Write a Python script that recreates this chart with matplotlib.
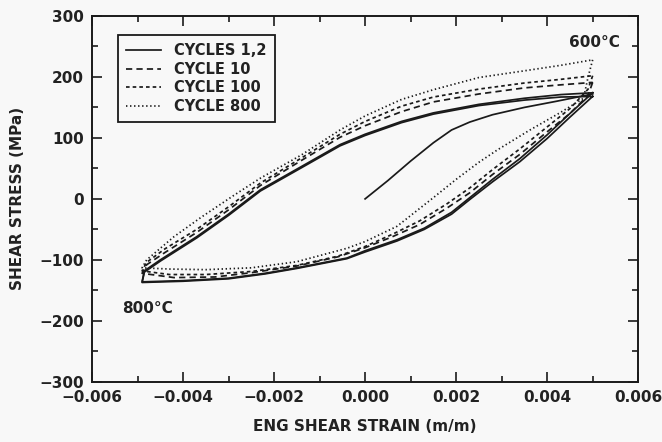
import matplotlib
matplotlib.use("Agg")
import matplotlib.pyplot as plt
from matplotlib.ticker import MultipleLocator, FuncFormatter

# ---- data (strain m/m, stress MPa) ----
# cycle 1: initial loading from the origin
c1_load_x = [0.0, 0.0005, 0.001, 0.0015, 0.0019, 0.0023, 0.0028, 0.0035, 0.0042, 0.005]
c1_load_y = [0, 30, 62, 92, 113, 126, 138, 150, 160, 172]

# loops: right tip -> lower branch -> left tip -> upper branch -> right tip
c1_x = [0.005, 0.0045, 0.004, 0.0034, 0.0028, 0.0023, 0.0019, 0.0013, 0.0007, 0.0, -0.0004,
        -0.0015, -0.0022, -0.003, -0.004, -0.0049,
        -0.00485, -0.0045, -0.0037, -0.003, -0.0023, -0.0014, -0.00055, 0.0, 0.0008, 0.0015,
        0.0025, 0.0035, 0.0043, 0.005]
c1_y = [174, 140, 105, 66, 32, 2, -22, -48, -67, -85, -97,
        -113, -122, -130, -134, -136,
        -118, -100, -62, -25, 15, 53, 89, 106, 127, 141,
        155, 165, 171, 174]

c2_x = [0.005, 0.0045, 0.004, 0.0034, 0.0028, 0.0023, 0.0019, 0.0013, 0.0007, 0.0, -0.0004,
        -0.0015, -0.0022, -0.003, -0.004, -0.0049,
        -0.00485, -0.0045, -0.0037, -0.003, -0.0023, -0.0014, -0.00055, 0.0, 0.0008, 0.0015,
        0.0025, 0.0035, 0.0043, 0.005]
c2_y = [168, 134, 99, 61, 28, -1, -25, -50, -69, -87, -98,
        -114, -123, -131, -135, -137,
        -120, -102, -64, -27, 13, 51, 87, 104, 125, 139,
        153, 162, 167, 168]

c10_x = [0.005, 0.0049, 0.0045, 0.004, 0.0034, 0.0028, 0.0023, 0.0018, 0.0012, 0.0006, 0.0,
         -0.0006, -0.0015, -0.0025, -0.0033, -0.0042, -0.0049,
         -0.0048, -0.0044, -0.0037, -0.003, -0.0023, -0.0014, -0.00055, 0.0, 0.0008, 0.0015,
         0.0025, 0.0035, 0.0043, 0.005]
c10_y = [191, 170, 140, 110, 73, 40, 10, -15, -42, -62, -80,
         -95, -110, -121, -128, -129, -122,
         -108, -88, -55, -18, 22, 63, 101, 120, 143, 159,
         172, 182, 187, 191]

c100_x = [0.005, 0.0049, 0.0045, 0.004, 0.0034, 0.0028, 0.0023, 0.0018, 0.0012, 0.0006, 0.0,
          -0.0006, -0.0015, -0.0025, -0.0035, -0.0043, -0.0049,
          -0.0048, -0.0044, -0.0037, -0.003, -0.0023, -0.0014, -0.00055, 0.0, 0.0008, 0.0015,
          0.0025, 0.0035, 0.0043, 0.005]
c100_y = [202, 180, 148, 118, 82, 48, 18, -8, -36, -58, -78,
          -94, -109, -119, -124, -124, -118,
          -104, -82, -50, -13, 26, 67, 106, 127, 152, 167,
          180, 190, 196, 202]

c800_x = [0.005, 0.0049, 0.0048, 0.0043, 0.0036, 0.0029, 0.0025, 0.002, 0.0015, 0.0007, 0.0,
          -0.0004, -0.0015, -0.0025, -0.0035, -0.0043, -0.0049,
          -0.0048, -0.0042, -0.0036, -0.0029, -0.0023, -0.0014, -0.00055, 0.0, 0.0008, 0.0015,
          0.0025, 0.0035, 0.0043, 0.005]
c800_y = [228, 200, 165, 142, 112, 80, 60, 32, 2, -45, -70,
          -81, -103, -113, -116, -115, -113,
          -100, -62, -30, 5, 34, 72, 113, 136, 163, 179,
          199, 210, 219, 228]

labels = ["CYCLES 1,2", "CYCLE 10", "CYCLE 100", "CYCLE 800"]

plt.rcParams['font.family'] = ['DejaVu Sans']
plt.rcParams['lines.scale_dashes'] = False

fig = plt.figure(figsize=(6.62, 4.42), dpi=100, facecolor='#f8f8f8')
ax = fig.add_axes([0.139, 0.136, 0.825, 0.828])
ax.set_facecolor('#f8f8f8')

ink = '#1a1a1a'
lw = 1.25
ax.plot(c1_load_x, c1_load_y, color=ink, lw=lw, ls='-')
ax.plot(c1_x, c1_y, color=ink, lw=lw, ls='-', label=labels[0])
ax.plot(c2_x, c2_y, color=ink, lw=lw, ls='-')
ax.plot(c10_x, c10_y, color=ink, lw=lw, ls=(0, (4.5, 3.0)), label=labels[1])
ax.plot(c100_x, c100_y, color=ink, lw=lw, ls=(0, (2.6, 2.2)), label=labels[2])
ax.plot(c800_x, c800_y, color=ink, lw=lw, ls=(0, (1.0, 1.9)), label=labels[3])

ax.set_xlim(-0.006, 0.006)
ax.set_ylim(-300, 300)
ax.xaxis.set_major_locator(MultipleLocator(0.002))
ax.xaxis.set_minor_locator(MultipleLocator(0.001))
ax.yaxis.set_major_locator(MultipleLocator(100))
ax.yaxis.set_minor_locator(MultipleLocator(50))
ax.xaxis.set_major_formatter(FuncFormatter(lambda v, p: f"{v:.3f}".replace('-', '\u2212')))
ax.yaxis.set_major_formatter(FuncFormatter(lambda v, p: f"{v:.0f}".replace('-', '\u2212')))
ax.tick_params(which='both', direction='in', top=True, right=True, width=1.2, color=ink)
ax.tick_params(which='major', length=7, labelsize=11, pad=6)
ax.tick_params(which='minor', length=4)
for lab in ax.get_xticklabels() + ax.get_yticklabels():
    lab.set_fontweight('bold')
    lab.set_color('#222222')
for s in ax.spines.values():
    s.set_linewidth(1.4)
    s.set_color(ink)

ax.set_xlabel("ENG SHEAR STRAIN (m/m)", fontsize=11, fontweight='bold', color='#222222', labelpad=10)
ax.set_ylabel("SHEAR STRESS (MPa)", fontsize=11, fontweight='bold', color='#222222', labelpad=10)

ax.text(0.00503, 257, "600\u00b0C", ha='center', va='center', fontsize=11, fontweight='bold', color='#222222')
ax.text(-0.00479, -179, "800\u00b0C", ha='center', va='center', fontsize=11, fontweight='bold', color='#222222')

leg = ax.legend(loc='upper left', bbox_to_anchor=(0.048, 0.948), fancybox=False,
                edgecolor=ink, framealpha=1, facecolor='#f8f8f8', handlelength=2.4,
                borderpad=0.55, labelspacing=0.25, handletextpad=0.9, borderaxespad=0,
                prop={'size': 10.5, 'weight': 'bold'})
leg.get_frame().set_linewidth(1.3)
for t in leg.get_texts():
    t.set_color('#222222')

fig.savefig("out.png", dpi=100, facecolor=fig.get_facecolor())
